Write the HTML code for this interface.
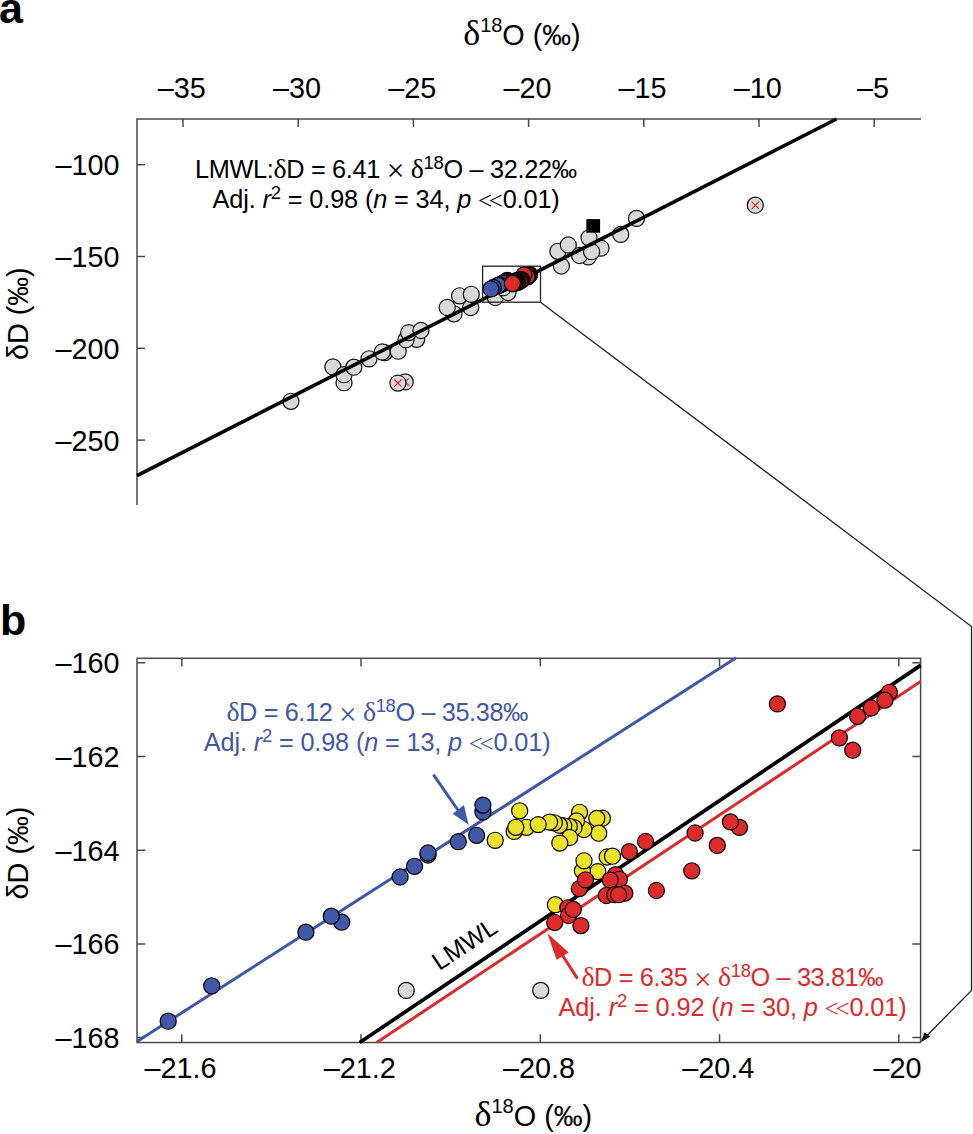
<!DOCTYPE html>
<html><head><meta charset="utf-8"><title>Figure</title>
<style>
html,body{margin:0;padding:0;background:#fff;}
body{width:973px;height:1134px;overflow:hidden;}
svg{display:block;}
text{font-family:"Liberation Sans",sans-serif;}
.t{font-size:28.8px;fill:#000;}
.an{font-size:25.3px;}
.lab{font-size:43px;font-weight:bold;fill:#000;}
.lm{font-size:25px;fill:#000;}
</style></head>
<body>
<svg width="973" height="1134" viewBox="0 0 973 1134">
<rect width="973" height="1134" fill="#fff"/>
<g stroke="#4a4a4a" stroke-width="1.5" fill="none">
<path d="M137,505 V119 H921"/>
<path d="M183.0,119 V127"/>
<path d="M298.2,119 V127"/>
<path d="M413.4,119 V127"/>
<path d="M528.6,119 V127"/>
<path d="M643.8,119 V127"/>
<path d="M759.0,119 V127"/>
<path d="M874.2,119 V127"/>
<path d="M137,164.7 H145"/>
<path d="M137,256.5 H145"/>
<path d="M137,348.3 H145"/>
<path d="M137,440.1 H145"/>
</g>
<text x="181.8" y="97.6" text-anchor="middle" class="t">–35</text>
<text x="297.0" y="97.6" text-anchor="middle" class="t">–30</text>
<text x="412.2" y="97.6" text-anchor="middle" class="t">–25</text>
<text x="527.4" y="97.6" text-anchor="middle" class="t">–20</text>
<text x="642.6" y="97.6" text-anchor="middle" class="t">–15</text>
<text x="757.8" y="97.6" text-anchor="middle" class="t">–10</text>
<text x="873.0" y="97.6" text-anchor="middle" class="t">–5</text>
<text x="119.5" y="175.1" text-anchor="end" class="t">–100</text>
<text x="119.5" y="266.9" text-anchor="end" class="t">–150</text>
<text x="119.5" y="358.7" text-anchor="end" class="t">–200</text>
<text x="119.5" y="450.5" text-anchor="end" class="t">–250</text>
<text transform="translate(28.1,313.7) rotate(-90)" text-anchor="middle" class="t">δD (‰)</text>
<text x="-1" y="22.6" class="lab">a</text>
<text x="0" y="635.4" class="lab">b</text>
<g fill="#d9d9d9" stroke="#111" stroke-width="1.2">
<circle cx="290.9" cy="401.3" r="8.05"/>
<circle cx="332.9" cy="366.9" r="8.05"/>
<circle cx="344.0" cy="382.7" r="8.05"/>
<circle cx="344.0" cy="374.7" r="8.05"/>
<circle cx="353.8" cy="367.2" r="8.05"/>
<circle cx="369.0" cy="358.8" r="8.05"/>
<circle cx="384.7" cy="352.6" r="8.05"/>
<circle cx="382.2" cy="352.0" r="8.05"/>
<circle cx="398.2" cy="351.2" r="8.05"/>
<circle cx="416.7" cy="339.3" r="8.05"/>
<circle cx="406.0" cy="339.7" r="8.05"/>
<circle cx="408.7" cy="332.6" r="8.05"/>
<circle cx="420.9" cy="330.5" r="8.05"/>
<circle cx="454.0" cy="313.8" r="8.05"/>
<circle cx="447.2" cy="307.5" r="8.05"/>
<circle cx="470.7" cy="307.5" r="8.05"/>
<circle cx="459.6" cy="295.8" r="8.05"/>
<circle cx="471.3" cy="294.3" r="8.05"/>
<circle cx="561.4" cy="266.0" r="8.05"/>
<circle cx="557.9" cy="251.3" r="8.05"/>
<circle cx="568.3" cy="245.0" r="8.05"/>
<circle cx="588.3" cy="256.9" r="8.05"/>
<circle cx="579.6" cy="255.5" r="8.05"/>
<circle cx="601.0" cy="248.1" r="8.05"/>
<circle cx="591.6" cy="251.7" r="8.05"/>
<circle cx="589.0" cy="237.8" r="8.05"/>
<circle cx="620.7" cy="234.4" r="8.05"/>
<circle cx="636.5" cy="218.4" r="8.05"/>
<circle cx="495.3" cy="297.5" r="8.05"/>
<circle cx="508.0" cy="292.5" r="8.05"/>
<circle cx="503.3" cy="287.7" r="8.05"/>
</g>
<path d="M137,475.7 L836.5,119" stroke="#000" stroke-width="3.6" fill="none"/>
<circle cx="405.2" cy="381.9" r="8.05" fill="#d9d9d9" stroke="#111" stroke-width="1.2"/>
<path d="M401.6,378.3 L408.8,385.5 M408.8,378.3 L401.6,385.5" stroke="#dd2a2b" stroke-width="1.2"/>
<circle cx="397.9" cy="383.1" r="8.05" fill="#d9d9d9" stroke="#111" stroke-width="1.2"/>
<path d="M394.3,379.5 L401.5,386.7 M401.5,379.5 L394.3,386.7" stroke="#dd2a2b" stroke-width="1.2"/>
<circle cx="755.3" cy="205.2" r="8.05" fill="#d9d9d9" stroke="#111" stroke-width="1.2"/>
<path d="M751.7,201.6 L758.9,208.8 M758.9,201.6 L751.7,208.8" stroke="#dd2a2b" stroke-width="1.2"/>
<rect x="586.3" y="219.1" width="13.8" height="13.6" fill="#000"/>
<g stroke="#000" stroke-width="1.2">
<g fill="#3f58a8"><circle cx="507.2" cy="280.7" r="8.05"/>
<circle cx="507.2" cy="280.4" r="8.05"/>
<circle cx="506.9" cy="281.6" r="8.05"/>
<circle cx="506.0" cy="281.9" r="8.05"/>
<circle cx="504.4" cy="282.4" r="8.05"/>
<circle cx="504.4" cy="282.3" r="8.05"/>
<circle cx="503.7" cy="282.8" r="8.05"/>
<circle cx="503.0" cy="283.3" r="8.05"/>
<circle cx="500.0" cy="285.0" r="8.05"/>
<circle cx="499.4" cy="284.8" r="8.05"/>
<circle cx="498.1" cy="285.4" r="8.05"/>
<circle cx="493.3" cy="287.5" r="8.05"/>
<circle cx="491.0" cy="288.9" r="8.05"/></g>
<g fill="#dd2a2b"><circle cx="529.6" cy="274.5" r="8.05"/>
<circle cx="529.4" cy="274.8" r="8.05"/>
<circle cx="528.7" cy="275.1" r="8.05"/>
<circle cx="528.0" cy="275.5" r="8.05"/>
<circle cx="527.7" cy="276.8" r="8.05"/>
<circle cx="527.0" cy="276.3" r="8.05"/>
<circle cx="523.9" cy="275.0" r="8.05"/>
<circle cx="521.9" cy="279.8" r="8.05"/>
<circle cx="521.4" cy="279.6" r="8.05"/>
<circle cx="520.8" cy="280.5" r="8.05"/>
<circle cx="519.6" cy="280.0" r="8.05"/>
<circle cx="519.5" cy="281.5" r="8.05"/>
<circle cx="517.6" cy="282.3" r="8.05"/>
<circle cx="517.1" cy="280.4" r="8.05"/>
<circle cx="516.3" cy="280.8" r="8.05"/>
<circle cx="516.0" cy="282.4" r="8.05"/>
<circle cx="515.7" cy="281.8" r="8.05"/>
<circle cx="515.7" cy="282.4" r="8.05"/>
<circle cx="515.5" cy="281.7" r="8.05"/>
<circle cx="515.5" cy="282.4" r="8.05"/>
<circle cx="515.3" cy="281.9" r="8.05"/>
<circle cx="515.1" cy="282.5" r="8.05"/>
<circle cx="514.0" cy="281.9" r="8.05"/>
<circle cx="513.8" cy="283.7" r="8.05"/>
<circle cx="513.7" cy="282.2" r="8.05"/>
<circle cx="513.4" cy="283.0" r="8.05"/>
<circle cx="513.1" cy="283.3" r="8.05"/>
<circle cx="513.1" cy="283.0" r="8.05"/>
<circle cx="512.4" cy="283.5" r="8.05"/></g>
</g>
<rect x="482.6" y="266.2" width="57.9" height="36" fill="none" stroke="#222" stroke-width="1.3"/>
<path d="M540.5,302.2 L971.5,626.5 V990.4 L924,1038.5" fill="none" stroke="#222" stroke-width="1.3"/>
<path d="M920.8,1042.3 L924.5,1032.5 L930.5,1036.5 Z" fill="#111"/>
<g stroke="#4a4a4a" stroke-width="1.5" fill="none">
<rect x="137" y="658.3" width="783.6" height="384.2"/>
<path d="M181.8,658.3 V666.5 M181.8,1042.5 V1034.3"/>
<path d="M361.0,658.3 V666.5 M361.0,1042.5 V1034.3"/>
<path d="M540.3,658.3 V666.5 M540.3,1042.5 V1034.3"/>
<path d="M719.5,658.3 V666.5 M719.5,1042.5 V1034.3"/>
<path d="M898.8,658.3 V666.5 M898.8,1042.5 V1034.3"/>
<path d="M137,662.8 H145.3 M920.6,662.8 H912.3"/>
<path d="M137,756.5 H145.3 M920.6,756.5 H912.3"/>
<path d="M137,850.2 H145.3 M920.6,850.2 H912.3"/>
<path d="M137,943.9 H145.3 M920.6,943.9 H912.3"/>
<path d="M137,1037.6 H145.3 M920.6,1037.6 H912.3"/>
</g>
<text x="180.6" y="1077.6" text-anchor="middle" class="t">–21.6</text>
<text x="359.8" y="1077.6" text-anchor="middle" class="t">–21.2</text>
<text x="539.1" y="1077.6" text-anchor="middle" class="t">–20.8</text>
<text x="718.3" y="1077.6" text-anchor="middle" class="t">–20.4</text>
<text x="897.6" y="1077.6" text-anchor="middle" class="t">–20</text>
<text x="119.5" y="673.2" text-anchor="end" class="t">–160</text>
<text x="119.5" y="766.9" text-anchor="end" class="t">–162</text>
<text x="119.5" y="860.6" text-anchor="end" class="t">–164</text>
<text x="119.5" y="954.3" text-anchor="end" class="t">–166</text>
<text x="119.5" y="1048.0" text-anchor="end" class="t">–168</text>
<text transform="translate(28.1,853) rotate(-90)" text-anchor="middle" class="t">δD (‰)</text>
<path d="M137,1041.5 L736.1,657.8" stroke="#3f58a8" stroke-width="3.0"/>
<path d="M359.7,1042.5 L920.6,665.4" stroke="#000" stroke-width="3.7"/>
<path d="M376.7,1042.5 L920.6,681.6" stroke="#dd2a2b" stroke-width="3.0"/>
<text transform="translate(469.3,951.3) rotate(-33.6)" text-anchor="middle" class="lm">LMWL</text>
<g stroke="#000" stroke-width="1.2">
<g fill="#d9d9d9"><circle cx="406.2" cy="990.4" r="8.05"/>
<circle cx="540.7" cy="990.4" r="8.05"/></g>
<g fill="#3f58a8"><circle cx="168.2" cy="1021.2" r="8.05"/>
<circle cx="211.7" cy="985.8" r="8.05"/>
<circle cx="305.9" cy="932.2" r="8.05"/>
<circle cx="341.7" cy="922.2" r="8.05"/>
<circle cx="331.3" cy="916.2" r="8.05"/>
<circle cx="400.1" cy="877.0" r="8.05"/>
<circle cx="414.5" cy="866.3" r="8.05"/>
<circle cx="428.0" cy="855.0" r="8.05"/>
<circle cx="428.0" cy="853.0" r="8.05"/>
<circle cx="458.3" cy="841.7" r="8.05"/>
<circle cx="476.6" cy="835.3" r="8.05"/>
<circle cx="482.9" cy="811.9" r="8.05"/>
<circle cx="482.9" cy="805.1" r="8.05"/></g>
<g fill="#ece22a"><circle cx="495.2" cy="840.3" r="8.05"/>
<circle cx="519.7" cy="810.8" r="8.05"/>
<circle cx="514.2" cy="831.4" r="8.05"/>
<circle cx="526.5" cy="827.3" r="8.05"/>
<circle cx="515.8" cy="827.3" r="8.05"/>
<circle cx="579.6" cy="812.3" r="8.05"/>
<circle cx="602.4" cy="818.2" r="8.05"/>
<circle cx="596.8" cy="818.4" r="8.05"/>
<circle cx="598.7" cy="833.2" r="8.05"/>
<circle cx="583.9" cy="829.5" r="8.05"/>
<circle cx="576.5" cy="820.9" r="8.05"/>
<circle cx="574.0" cy="827.7" r="8.05"/>
<circle cx="569.3" cy="826.4" r="8.05"/>
<circle cx="563.8" cy="825.8" r="8.05"/>
<circle cx="559.4" cy="825.2" r="8.05"/>
<circle cx="554.3" cy="822.8" r="8.05"/>
<circle cx="549.6" cy="822.1" r="8.05"/>
<circle cx="538.2" cy="824.6" r="8.05"/>
<circle cx="569.7" cy="837.5" r="8.05"/>
<circle cx="559.8" cy="843.1" r="8.05"/>
<circle cx="607.1" cy="857.0" r="8.05"/>
<circle cx="612.5" cy="856.2" r="8.05"/>
<circle cx="597.8" cy="871.6" r="8.05"/>
<circle cx="582.4" cy="870.8" r="8.05"/>
<circle cx="584.0" cy="860.8" r="8.05"/>
<circle cx="555.4" cy="904.7" r="8.05"/></g>
<g fill="#dd2a2b"><circle cx="645.6" cy="841.5" r="8.05"/>
<circle cx="629.4" cy="851.6" r="8.05"/>
<circle cx="579.3" cy="888.6" r="8.05"/>
<circle cx="585.5" cy="879.8" r="8.05"/>
<circle cx="615.6" cy="874.7" r="8.05"/>
<circle cx="619.4" cy="879.3" r="8.05"/>
<circle cx="610.2" cy="880.1" r="8.05"/>
<circle cx="606.3" cy="895.5" r="8.05"/>
<circle cx="624.8" cy="893.2" r="8.05"/>
<circle cx="614.8" cy="894.7" r="8.05"/>
<circle cx="618.6" cy="894.7" r="8.05"/>
<circle cx="656.4" cy="890.5" r="8.05"/>
<circle cx="567.8" cy="907.8" r="8.05"/>
<circle cx="568.5" cy="915.5" r="8.05"/>
<circle cx="573.2" cy="909.4" r="8.05"/>
<circle cx="554.7" cy="922.5" r="8.05"/>
<circle cx="580.9" cy="925.6" r="8.05"/>
<circle cx="695.1" cy="833.0" r="8.05"/>
<circle cx="717.3" cy="845.4" r="8.05"/>
<circle cx="739.5" cy="827.4" r="8.05"/>
<circle cx="730.4" cy="821.9" r="8.05"/>
<circle cx="691.8" cy="870.8" r="8.05"/>
<circle cx="777.4" cy="703.9" r="8.05"/>
<circle cx="839.4" cy="737.8" r="8.05"/>
<circle cx="852.7" cy="750.2" r="8.05"/>
<circle cx="889.4" cy="692.3" r="8.05"/>
<circle cx="884.9" cy="700.2" r="8.05"/>
<circle cx="871.2" cy="708.0" r="8.05"/>
<circle cx="857.6" cy="716.3" r="8.05"/></g>
</g>
<path d="M433.4,774.6 L460,813" stroke="#3f58a8" stroke-width="3"/>
<path d="M468.6,824.7 L452.8,813.8 L463.9,805 Z" fill="#3f58a8"/>
<path d="M577.5,978.6 L561,953" stroke="#dd2a2b" stroke-width="3"/>
<path d="M547.3,933.3 L556.6,959.8 L568.8,952.4 Z" fill="#dd2a2b"/>
<text id="a1" x="195.00" y="177.5" class="an" fill="#000" textLength="382.00" lengthAdjust="spacing">LMWL:<tspan font-family="Liberation Serif" font-size="27.8">δ</tspan>D = 6.41 <tspan dy="3.60" font-size="31.4" font-family="Liberation Serif">×</tspan><tspan dy="-3.60"> </tspan><tspan font-family="Liberation Serif" font-size="27.8">δ</tspan><tspan dy="-8.60" font-size="18.5">18</tspan><tspan dy="8.60">O – 32.22‰</tspan></text>
<text id="a2" x="212.60" y="207.5" class="an" fill="#000" textLength="347.20" lengthAdjust="spacing">Adj. <tspan font-style="italic">r</tspan><tspan dy="-8.60" font-size="18.5">2</tspan><tspan dy="8.60"> = 0.98 (</tspan><tspan font-style="italic">n</tspan> = 34, <tspan font-style="italic">p</tspan> <tspan dy="1.20" font-family="Liberation Serif" font-size="25">&lt;</tspan><tspan font-family="Liberation Serif" font-size="25" dx="-3.2">&lt;</tspan><tspan dy="-1.20">0.01)</tspan></text>
<text id="b1" x="226.40" y="721.0" class="an" fill="#3f58a8" textLength="302.00" lengthAdjust="spacing"><tspan font-family="Liberation Serif" font-size="27.8">δ</tspan>D = 6.12 <tspan dy="3.60" font-size="31.4" font-family="Liberation Serif">×</tspan><tspan dy="-3.60"> </tspan><tspan font-family="Liberation Serif" font-size="27.8">δ</tspan><tspan dy="-8.60" font-size="18.5">18</tspan><tspan dy="8.60">O – 35.38‰</tspan></text>
<text id="b2" x="203.80" y="750.8" class="an" fill="#3f58a8" textLength="346.80" lengthAdjust="spacing">Adj. <tspan font-style="italic">r</tspan><tspan dy="-8.60" font-size="18.5">2</tspan><tspan dy="8.60"> = 0.98 (</tspan><tspan font-style="italic">n</tspan> = 13, <tspan font-style="italic">p</tspan> <tspan dy="1.20" font-family="Liberation Serif" font-size="25">&lt;</tspan><tspan font-family="Liberation Serif" font-size="25" dx="-3.2">&lt;</tspan><tspan dy="-1.20">0.01)</tspan></text>
<text id="r1" x="581.40" y="986.0" class="an" fill="#dd2a2b" textLength="302.20" lengthAdjust="spacing"><tspan font-family="Liberation Serif" font-size="27.8">δ</tspan>D = 6.35 <tspan dy="3.60" font-size="31.4" font-family="Liberation Serif">×</tspan><tspan dy="-3.60"> </tspan><tspan font-family="Liberation Serif" font-size="27.8">δ</tspan><tspan dy="-8.60" font-size="18.5">18</tspan><tspan dy="8.60">O – 33.81‰</tspan></text>
<text id="r2" x="558.60" y="1015.8" class="an" fill="#dd2a2b" textLength="348.00" lengthAdjust="spacing">Adj. <tspan font-style="italic">r</tspan><tspan dy="-8.60" font-size="18.5">2</tspan><tspan dy="8.60"> = 0.92 (</tspan><tspan font-style="italic">n</tspan> = 30, <tspan font-style="italic">p</tspan> <tspan dy="1.20" font-family="Liberation Serif" font-size="25">&lt;</tspan><tspan font-family="Liberation Serif" font-size="25" dx="-3.2">&lt;</tspan><tspan dy="-1.20">0.01)</tspan></text>
<text id="ta" x="463.20" y="44.7" class="t" fill="#000" textLength="117.40" lengthAdjust="spacing"><tspan font-family="Liberation Serif" font-size="36">δ</tspan><tspan dy="-13.20" font-size="20">18</tspan><tspan dy="13.20">O (‰)</tspan></text>
<text id="tb" x="474.40" y="1126.4" class="t" fill="#000" textLength="117.80" lengthAdjust="spacing"><tspan font-family="Liberation Serif" font-size="36">δ</tspan><tspan dy="-13.20" font-size="20">18</tspan><tspan dy="13.20">O (‰)</tspan></text>
</svg>
</body></html>
